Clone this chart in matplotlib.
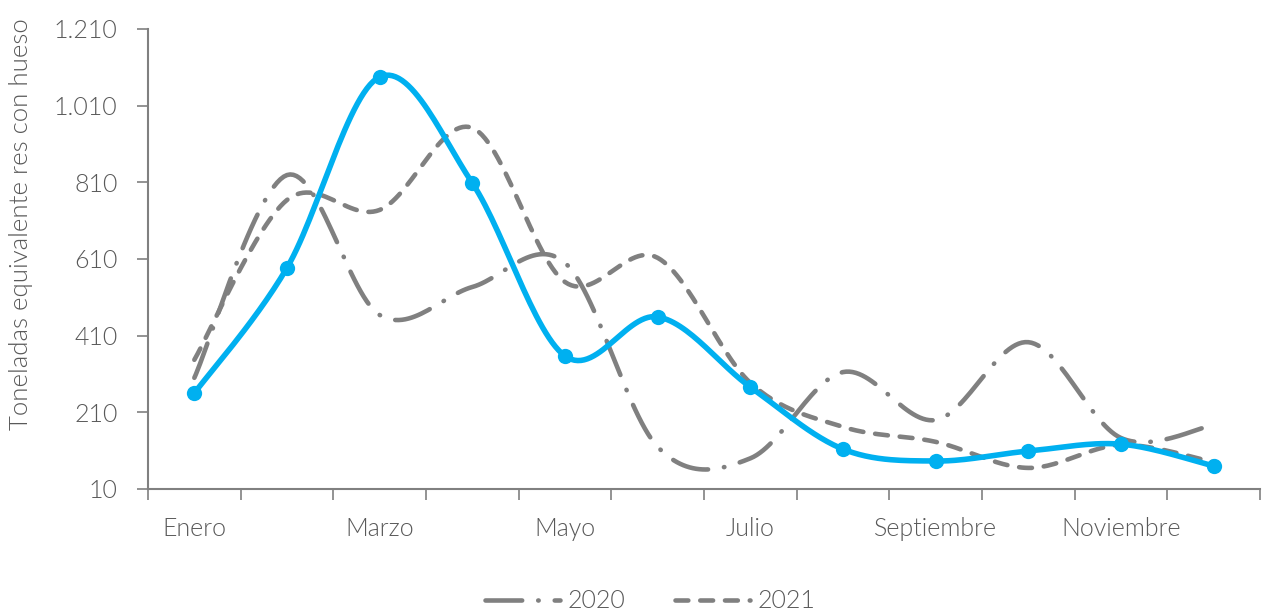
import numpy as np
import matplotlib
matplotlib.use("Agg")
import matplotlib.pyplot as plt
from matplotlib.ticker import FuncFormatter

# datos
meses = ["Enero", "Febrero", "Marzo", "Abril", "Mayo", "Junio", "Julio",
         "Agosto", "Septiembre", "Octubre", "Noviembre", "Diciembre"]
v2020 = [300, 829, 464, 537, 600, 120, 90, 315, 190, 393, 143, 177]
v2021 = [347, 764, 738, 952, 550, 613, 287, 172, 133, 65, 125, 80]
v2022 = [260, 587, 1085, 808, 357, 459, 276, 114, 83, 109, 127, 70]

GRIS = "#808080"
AZUL = "#00B0F0"
TEXTO = "#595959"

plt.rcParams["font.family"] = ["Lato", "DejaVu Sans"]
plt.rcParams["font.weight"] = 300
plt.rcParams["axes.labelweight"] = 300


def suavizar(y, n=30):
    # curva suavizada tipo Excel (Catmull-Rom / Bezier)
    y = np.asarray(y, dtype=float)
    x = np.arange(len(y), dtype=float)
    px = np.concatenate([[x[0]], x, [x[-1]]])
    py = np.concatenate([[y[0]], y, [y[-1]]])
    xs, ys = [], []
    t = np.linspace(0, 1, n)
    for i in range(1, len(px) - 2):
        p0x, p1x, p2x, p3x = px[i - 1], px[i], px[i + 1], px[i + 2]
        p0y, p1y, p2y, p3y = py[i - 1], py[i], py[i + 1], py[i + 2]
        c1x = p1x + (p2x - p0x) / 6
        c1y = p1y + (p2y - p0y) / 6
        c2x = p2x - (p3x - p1x) / 6
        c2y = p2y - (p3y - p1y) / 6
        bx = (1 - t) ** 3 * p1x + 3 * (1 - t) ** 2 * t * c1x + 3 * (1 - t) * t ** 2 * c2x + t ** 3 * p2x
        by = (1 - t) ** 3 * p1y + 3 * (1 - t) ** 2 * t * c1y + 3 * (1 - t) * t ** 2 * c2y + t ** 3 * p2y
        xs.extend(bx)
        ys.extend(by)
    return np.array(xs), np.array(ys)


fig = plt.figure(figsize=(12.68, 6.15), dpi=100)
ax = fig.add_axes([148 / 1268, 1 - 489 / 615, (1260 - 148) / 1268, (489 - 29) / 615])

x20, y20 = suavizar(v2020)
x21, y21 = suavizar(v2021)
x22, y22 = suavizar(v2022)

l20, = ax.plot(x20, y20, color=GRIS, lw=3.3, dashes=(8, 3.5, 0.1, 3.5),
               dash_capstyle="round", label="2020")
l21, = ax.plot(x21, y21, color=GRIS, lw=3.3, dashes=(2.8, 2.6),
               dash_capstyle="round", label="2021")
ax.plot(x22, y22, color=AZUL, lw=4, solid_capstyle="round")
ax.plot(np.arange(len(v2022)), v2022, "o", color=AZUL, ms=11, mew=0)

ax.set_xlim(-0.5, 11.5)
ax.set_ylim(10, 1210)
ax.set_yticks(np.arange(10, 1211, 200))
ax.yaxis.set_major_formatter(FuncFormatter(lambda v, p: f"{int(v):,}".replace(",", ".")))

ax.set_xticks(np.arange(-0.5, 12, 1))
ax.set_xticklabels([])
ax.set_xticks(np.arange(0, 12, 2), minor=True)
ax.set_xticklabels(meses[::2], minor=True)
ax.tick_params(axis="x", which="minor", length=0, pad=20, labelsize=18, labelcolor=TEXTO)
ax.tick_params(axis="x", which="major", length=8, width=1.2, color=GRIS, direction="out")
ax.tick_params(axis="y", length=8, width=1.2, color=GRIS, labelsize=18, labelcolor=TEXTO, pad=14)

for s in ["top", "right"]:
    ax.spines[s].set_visible(False)
for s in ["left", "bottom"]:
    ax.spines[s].set_color(GRIS)
    ax.spines[s].set_linewidth(1.5)

ax.set_ylabel("Toneladas equivalente res con hueso", fontsize=18.5, color=TEXTO)
ax.yaxis.set_label_coords(-0.1035, 0.575)

fig.legend(handles=[l20, l21], loc="center", bbox_to_anchor=(650 / 1268, 0.022),
           ncol=2, frameon=False, fontsize=18, handlelength=3.0, columnspacing=2.0,
           labelcolor=TEXTO, handletextpad=0.3)

fig.savefig("out.png", dpi=100)
